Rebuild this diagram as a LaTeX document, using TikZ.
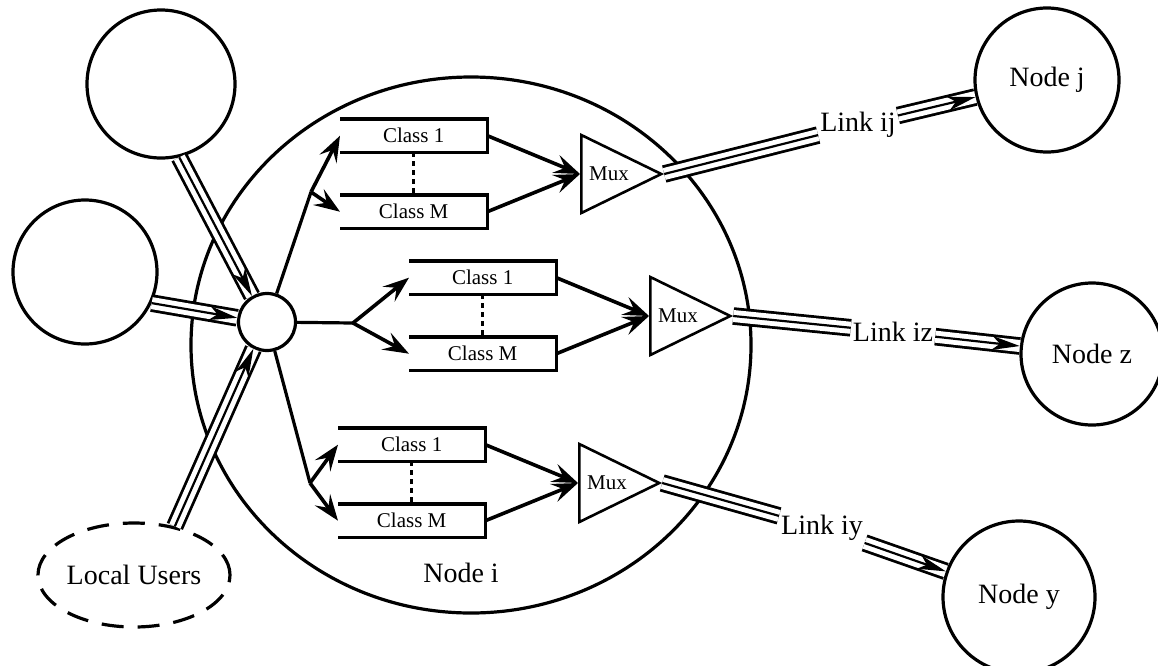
\documentclass[tikz,border=0pt]{standalone}
\usepackage{fontspec}
\setmainfont{Liberation Serif}
\usetikzlibrary{shapes.geometric,arrows.meta}

% tubo doble con linea central
\newcommand{\caneria}[3][punta]{%
  \draw[tubo] (#2) -- (#3);
  \draw[#1] (#2) -- (#3);}

\begin{document}
\begin{tikzpicture}[x=1pt, y=-1pt,
    grande/.style={font=\fontsize{28}{30}\selectfont},
    chica/.style={font=\fontsize{21}{24}\selectfont},
    nodo/.style={draw, circle, line width=3.2pt, inner sep=0pt, grande},
    buffer/.style={minimum width=147pt, minimum height=33pt, inner sep=0pt, chica},
    borde/.style={line width=3.2pt},
    mux/.style={draw, isosceles triangle, isosceles triangle apex angle=52,
      minimum width=78pt, minimum height=78pt, inner sep=0pt, line width=2.6pt, chica},
    flecha/.style={line width=3.6pt, -{Stealth[length=26pt, width=19pt, inset=10pt]}},
    tubo/.style={line width=2.8pt, double=white, double distance=12pt},
    punta/.style={line width=2.2pt, -{Stealth[length=28pt, width=14pt, inset=8pt]}},
    medio/.style={line width=2.2pt},
    puntos/.style={line width=3.4pt, dash pattern=on 5pt off 4pt}]

    \useasboundingbox (0,0) rectangle (1158,665);

    % Nodo i
    \node[draw, ellipse, line width=3.2pt, minimum width=560pt, minimum height=536pt] (ni) at (471,345) {};
    \node[grande] (nit) at (461,573) {Node i};

    % Nodos vecinos
    \node[nodo, minimum size=148pt] (u1) at (161,84) {};
    \node[nodo, minimum size=144pt] (u2) at (85,272) {};
    \node[draw, ellipse, line width=3.2pt, dash pattern=on 22pt off 14pt, inner sep=0pt,
      minimum width=192pt, minimum height=104pt, grande] (lu) at (134,575) {Local Users};
    \node[nodo, minimum size=144pt] (nj) at (1047,80) {Node j};
    \node[nodo, minimum size=142pt] (nz) at (1092,354) {Node z};
    \node[nodo, minimum size=152pt] (ny) at (1019,597) {Node y};

    % Conmutador
    \node[nodo, minimum size=57pt, fill=white] (hub) at (267,322) {};

    % Colas por clase y multiplexores
    \foreach \gx/\gy/\g/\rx/\ry in {340/119/a/311/192, 409/261/b/353/323, 338/428/c/310/483} {
        \node[buffer, anchor=north west] (c1\g) at (\gx,\gy) {Class 1};
        \node[buffer, anchor=north west] (cm\g) at (\gx,\gy+76) {Class M};
        \draw[borde] (c1\g.north west) -- (c1\g.north east) -- (c1\g.south east) -- (c1\g.south west);
        \draw[borde] (cm\g.north west) -- (cm\g.north east) -- (cm\g.south east) -- (cm\g.south west);
        \draw[puntos] (c1\g.south) -- (cm\g.north);
        \node[mux, anchor=west] (mux\g) at (\gx+240,\gy+55) {Mux};
        \draw[flecha] (c1\g.east) -- (mux\g.west);
        \draw[flecha] (cm\g.east) -- (mux\g.west);
        % reparto desde el conmutador
        \coordinate (r\g) at (\rx,\ry);
        \draw[borde] (hub) -- (r\g);
        \draw[flecha] (r\g) -- (c1\g.west);
        \draw[flecha] (r\g) -- (cm\g.west);
    }

    % Entradas
    \caneria{u1.-76}{hub.120}
    \caneria{u2.-25}{hub.172}
    \caneria{lu.50}{hub.-117}

    % Enlaces de salida
    \node[grande, inner sep=2pt] (lij) at (858,125) {Link ij};
    \node[grande, inner sep=2pt] (liz) at (893,332) {Link iz};
    \node[grande, inner sep=2pt] (liy) at (822,528) {Link iy};
    \caneria[medio]{muxa.east}{lij}
    \caneria{lij}{nj}
    \caneria[medio]{muxb.east}{liz}
    \caneria{liz}{nz}
    \caneria[medio]{muxc.east}{liy}
    \caneria{liy}{ny}
\end{tikzpicture}
\end{document}
